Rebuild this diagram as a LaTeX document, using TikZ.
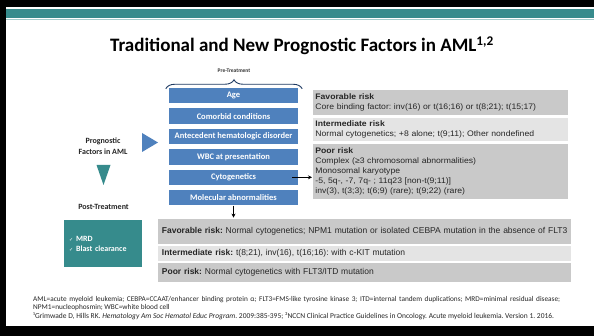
\documentclass[tikz,border=0pt]{standalone}
\usepackage{fontspec}
\setmainfont{Carlito}
\newfontfamily\arialfont{Liberation Sans}
\newfontfamily\arialwide[FakeStretch=1.08]{Liberation Sans}
\newfontfamily\dejavu{DejaVu Sans}
\usepackage{tikz}
\usetikzlibrary{arrows.meta,%
                decorations.pathreplacing}

\definecolor{slideteal}{HTML}{368B8C}
\definecolor{factorblue}{HTML}{4F81BD}
\definecolor{riskdark}{HTML}{C9C9C9}
\definecolor{risklight}{HTML}{E4E4E4}
\definecolor{bracenavy}{HTML}{1F3B63}

\tikzset{factor/.style={fill=factorblue,text=white,inner sep=0pt,minimum width=129pt,minimum height=15.5pt,font=\bfseries\fontsize{8.5}{9}\selectfont},
	riskbox/.style={draw=white,line width=0.8pt,anchor=west,inner sep=3pt,minimum width=256pt,text width=250pt,align=left,text=black!85,font=\arialwide\fontsize{8}{10}\selectfont},
	lowrisk/.style={riskbox,inner xsep=4.5pt,minimum width=414pt,text width=405pt,font=\arialfont\fontsize{8.5}{10}\selectfont},
	sidelabel/.style={align=center,text=black!85,font=\bfseries\fontsize{8}{11}\selectfont}}

\begin{document}
\frenchspacing
\begin{tikzpicture}[x=1pt,y=-1pt]
		\useasboundingbox (0,0) rectangle (594,336);
		\fill[white] (0,0) rectangle (594,336);
		\fill[black] (0,0) rectangle (594,7);
		\fill[black] (0,0) rectangle (6,336);
		\fill[black] (0,326) rectangle (594,336);
		\fill[slideteal] (6,9) rectangle (594,18.5);
		\draw[slideteal!45,line width=0.6pt] (6,19.3) -- (594,19.3);
		\node (title) at (302,46) {\fontsize{19}{23}\selectfont\bfseries Traditional and New Prognostic Factors in AML\textsuperscript{1,2}};

		\node[text=black!80,font=\bfseries\fontsize{5.5}{6}\selectfont] (pre) at (234,71) {Pre-Treatment};
		\node[factor] (age) at (233.5,95.7) {Age};
		\node[factor] (comorbid) at (233.5,116.1) {Comorbid conditions};
		\node[factor] (antecedent) at (233.5,136.5) {Antecedent hematologic disorder};
		\node[factor] (wbc) at (233.5,156.9) {WBC at presentation};
		\node[factor] (cyto) at (233.5,177.3) {Cytogenetics};
		\node[factor] (molecular) at (233.5,197.7) {Molecular abnormalities};
		\draw[bracenavy,line width=0.9pt,decorate,decoration={brace,amplitude=9pt}] ([xshift=-3pt,yshift=-1pt]age.north west) -- ([xshift=4pt,yshift=-1pt]age.north east);

		\node[sidelabel] (prog) at (103,146.5) {Prognostic\\Factors in AML};
		\fill[factorblue] (142,133) -- (158,142.5) -- (142,152) -- cycle;
		\fill[slideteal] (96.5,165) -- (110.5,165) -- (103.5,185) -- cycle;
		\node[sidelabel] (post) at (103.5,207) {Post-Treatment};
		\node[fill=slideteal,anchor=north west,minimum width=78pt,minimum height=47pt,inner xsep=5pt,text width=68pt,align=left,text=white,font=\bfseries\fontsize{8}{10}\selectfont] (mrd) at (64,220) {{\dejavu\fontsize{5}{6}\selectfont ✓} MRD\\{\dejavu\fontsize{5}{6}\selectfont ✓} Blast clearance};

		\node[riskbox,fill=riskdark,minimum height=26pt] (fav) at (312,102) {\textbf{Favorable risk}\\Core binding factor: inv(16) or t(16;16) or t(8;21); t(15;17)};
		\node[riskbox,fill=risklight,minimum height=24pt] (inter) at (312,129) {\textbf{Intermediate risk}\\Normal cytogenetics; +8 alone; t(9;11); Other nondefined};
		\node[riskbox,fill=riskdark,minimum height=56pt] (poor) at (312,171) {\textbf{Poor risk}\\Complex (≥3 chromosomal abnormalities)\\Monosomal karyotype\\-5, 5q-, -7, 7q- ; 11q23 [non-t(9;11)]\\inv(3), t(3;3); t(6;9) (rare); t(9;22) (rare)};
		\draw[-{Stealth[length=4pt,width=4pt]},line width=1.1pt] ([xshift=-6pt]cyto.east) -- (cyto.east -| poor.west);

		\node[lowrisk,fill=riskdark,minimum height=26pt] (lowfav) at (157,231) {\mbox{\textbf{Favorable risk:} Normal cytogenetics; NPM1 mutation or isolated CEBPA mutation in the absence of FLT3}};
		\node[lowrisk,fill=risklight,minimum height=16pt] (lowinter) at (157,253) {\textbf{Intermediate risk:} t(8;21), inv(16), t(16;16): with c-KIT mutation};
		\node[lowrisk,fill=riskdark,minimum height=20pt] (lowpoor) at (157,272) {\textbf{Poor risk:} Normal cytogenetics with FLT3/ITD mutation};
		\draw[-{Stealth[length=4pt,width=4pt]},line width=1.1pt] (molecular.south) -- (molecular.south |- lowfav.north);

		\node[anchor=north west,inner sep=0pt,text width=527pt,align=justify,text=black!85,font=\fontsize{7.3}{8.3}\selectfont] (abbrev) at (33,296) {AML=acute myeloid leukemia; CEBPA=CCAAT/enhancer binding protein α; FLT3=FMS-like tyrosine kinase 3; ITD=internal tandem duplications; MRD=minimal residual disease;\linebreak NPM1=nucleophosmin; WBC=white blood cell};
		\node[anchor=north west,inner sep=0pt,text=black!85,font=\fontsize{7.5}{8}\selectfont] (refs) at (33,313) {¹Grimwade D, Hills RK. \emph{Hematology Am Soc Hematol Educ Program}. 2009:385-395; ²NCCN Clinical Practice Guidelines in Oncology. Acute myeloid leukemia. Version 1. 2016.};
	\end{tikzpicture}
\end{document}
